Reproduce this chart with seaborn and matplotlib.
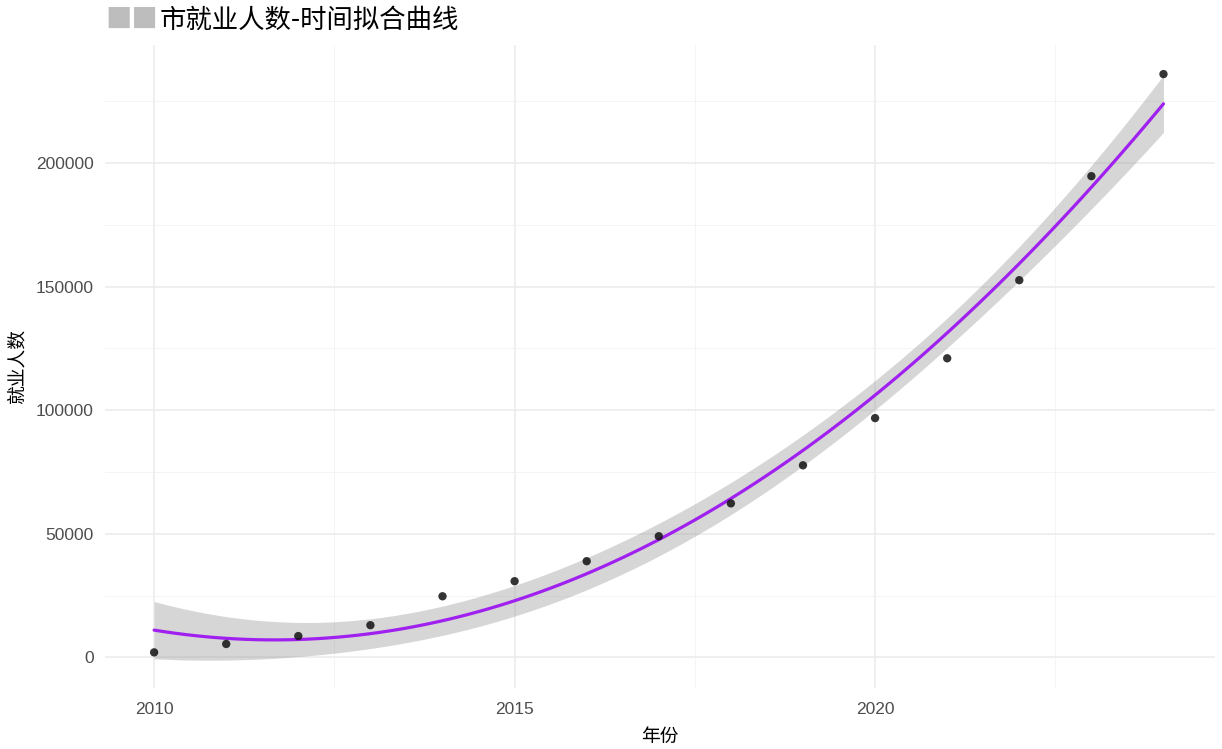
import numpy as np
import pandas as pd
import seaborn as sns
import matplotlib.pyplot as plt

# data
years = [2010, 2011, 2012, 2013, 2014, 2015, 2016, 2017, 2018, 2019, 2020, 2021, 2022, 2023, 2024]
employed = [2000, 5400, 8600, 13000, 24700, 30800, 38900, 49000, 62300, 77700,
            96800, 121000, 152600, 194700, 236000]
x_ticks = [2010, 2015, 2020]
y_ticks = [0, 50000, 100000, 150000, 200000]

df = pd.DataFrame({"年份": years, "就业人数": employed})

# analytic 95% confidence band of the quadratic fit (like geom_smooth)
x = np.array(years, dtype=float)
y = np.array(employed, dtype=float)
X = np.vander(x - x.mean(), 3)
beta, res, _, _ = np.linalg.lstsq(X, y, rcond=None)
dof = len(x) - 3
sigma2 = np.sum((y - X @ beta) ** 2) / dof
cov = sigma2 * np.linalg.inv(X.T @ X)
grid = np.linspace(x.min(), x.max(), 200)
G = np.vander(grid - x.mean(), 3)
fit = G @ beta
se = np.sqrt(np.einsum("ij,jk,ik->i", G, cov, G))
t_crit = 2.179  # t(0.975, 12)

sns.set_theme(style="whitegrid")
plt.rcParams['font.family'] = ['Liberation Sans', 'Noto Sans CJK SC', 'DejaVu Sans']

fig, ax = plt.subplots(figsize=(12.22, 7.49), dpi=100)
fig.subplots_adjust(left=0.086, right=0.994, top=0.94, bottom=0.081)

ax.fill_between(grid, fit - t_crit * se, fit + t_crit * se, color="#999999",
                alpha=0.4, linewidth=0, zorder=2)
sns.regplot(data=df, x="年份", y="就业人数", order=2, scatter=False, ci=None,
            truncate=True, color="#A020F0",
            line_kws={"linewidth": 2.3, "zorder": 3}, ax=ax)

sns.scatterplot(data=df, x="年份", y="就业人数", color="#111111", s=36,
                edgecolor="none", alpha=0.85, zorder=4, ax=ax)

ax.set_xlim(2009.32, 2024.71)
ax.set_ylim(-12550, 247800)
ax.set_xticks(x_ticks)
ax.set_yticks(y_ticks)
ax.set_xticks([2012.5, 2017.5, 2022.5], minor=True)
ax.set_yticks([25000, 75000, 125000, 175000, 225000], minor=True)
ax.grid(which="major", color="#EBEBEB", linewidth=1.1)
ax.grid(which="minor", color="#F2F2F2", linewidth=0.6)
ax.tick_params(axis="both", which="both", length=0, labelsize=12.5, colors="#4D4D4D")
ax.tick_params(axis="x", pad=10)
ax.tick_params(axis="y", pad=8)
for s in ax.spines.values():
    s.set_visible(False)
ax.set_facecolor("white")

ax.set_xlabel("年份", fontsize=13.5, family=['Noto Sans CJK SC'], color="black", labelpad=6)
ax.set_ylabel("就业人数", fontsize=13.5, family=['Noto Sans CJK SC'], color="black", labelpad=6)

# title (city name hidden in the reference)
fig.text(105 / 1222, 1 - 20 / 749, "■■", fontsize=19, color="#BDBDBD",
         family=['Noto Sans CJK SC'], va="center", ha="left")
fig.text(160 / 1222, 1 - 20 / 749, "市就业人数-时间拟合曲线", fontsize=19, color="black",
         family=['Noto Sans CJK SC', 'DejaVu Sans'], va="center", ha="left")

plt.savefig("out.png", dpi=100)
